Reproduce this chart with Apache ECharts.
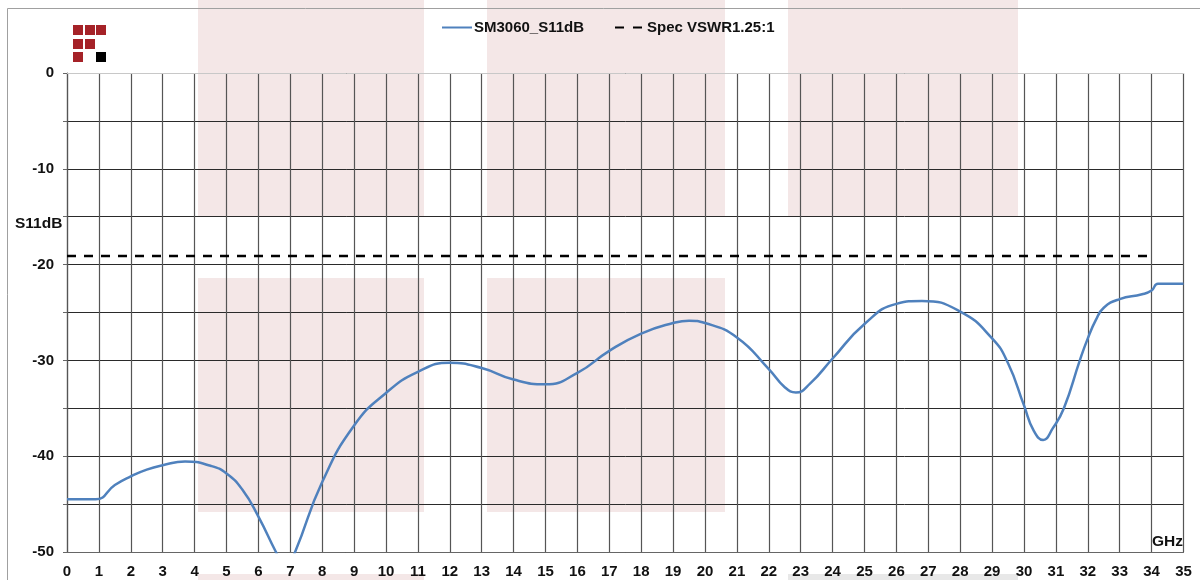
<!DOCTYPE html>
<html>
<head>
<meta charset="utf-8">
<style>
	html, body { margin: 0; padding: 0; background: #fff; }
	#chart { width: 1200px; height: 580px; }
</style>
<script src="https://cdn.jsdelivr.net/npm/echarts@6/dist/echarts.min.js"></script>
</head>
<body>
<div id="chart"></div>
<script>
const s11Freq = [0, 0.9, 1.5, 2, 2.5, 3, 3.7, 4.5, 5, 5.5, 6, 6.55, 6.85, 7.15, 8, 9, 10, 11, 12, 13, 14, 15, 16, 17, 18, 19, 19.5, 20, 21, 22, 22.5, 22.85, 23.3, 24, 25, 26, 26.8, 28, 29, 29.5, 30, 30.3, 30.6, 30.9, 31.25, 31.75, 32, 32.25, 32.5, 33, 33.7, 34, 34.2, 35];
const s11Values = [-44.5, -44.5, -43, -42.1, -41.4, -40.95, -40.55, -41, -41.8, -43.5, -46.3, -50, -51.8, -50, -42.7, -36.8, -33.4, -31.2, -30.25, -30.8, -32, -32.5, -31.3, -29, -27.2, -26.1, -25.85, -26.1, -27.6, -30.9, -32.8, -33.35, -32.4, -29.8, -26.2, -24.1, -23.8, -24.9, -27.7, -30.3, -34.7, -37.3, -38.3, -37.1, -35, -30, -27.7, -25.8, -24.5, -23.6, -23.1, -22.7, -22, -22];
const specFreq = [0, 34];
const specValues = [-19.1, -19.1];
const yTickLabels = [0, -10, -20, -30, -40, -50];

const fontFamily = '"Liberation Sans", Arial, sans-serif';
const textColor = '#111';

function zip(xs, ys) {
	return xs.map((x, i) => [x, ys[i]]);
}

// faint backdrop blocks behind the plot
function block(x, y, w, h, fill) {
	return {
		type: 'rect',
		silent: true,
		z: -10,
		shape: { x: x, y: y, width: w, height: h },
		style: { fill: fill || '#f4e7e7' }
	};
}

function logoCell(x, y, fill) {
	return {
		type: 'rect',
		silent: true,
		shape: { x: x, y: y, width: 10, height: 10 },
		style: { fill: fill || '#a52228' }
	};
}

function rule(x1, y1, x2, y2, color) {
	return {
		type: 'line',
		silent: true,
		z: 5,
		shape: { x1: x1, y1: y1, x2: x2, y2: y2 },
		style: { stroke: color, lineWidth: 1 }
	};
}

function legendItem(name, left, width, pad, icon) {
	return {
		top: 15,
		left: left,
		itemWidth: width,
		itemHeight: 2,
		icon: icon,
		textStyle: { color: textColor, fontFamily: fontFamily, fontWeight: 'bold', fontSize: 15, padding: [0, 0, 0, pad] },
		data: [name]
	};
}

const chart = echarts.init(document.getElementById('chart'));
chart.setOption({
	animation: false,
	backgroundColor: '#fff',
	grid: { left: 67, right: 16.5, top: 73, bottom: 28, containLabel: false },
	legend: [
		legendItem('SM3060_S11dB', 437, 30, -3, 'path://M0,0H30V2H0Z'),
		legendItem('Spec VSWR1.25:1', 610, 27, 0, 'path://M0,0H9V2H0ZM18,0H27V2H18Z')
	],
	xAxis: {
		type: 'value',
		min: 0,
		max: 35,
		interval: 1,
		axisLine: { show: true, onZero: false, lineStyle: { color: '#666', width: 1 } },
		axisTick: { show: false },
		axisLabel: { color: textColor, fontFamily: fontFamily, fontWeight: 'bold', fontSize: 15, margin: 12 },
		splitLine: { show: true, lineStyle: { color: '#555', width: 1.2 } }
	},
	yAxis: {
		type: 'value',
		min: -50,
		max: 0,
		interval: 5,
		axisLine: { show: true, lineStyle: { color: '#555', width: 1.2 } },
		axisTick: { show: true, length: 4, lineStyle: { color: '#666' } },
		axisLabel: {
			color: textColor,
			fontFamily: fontFamily,
			fontWeight: 'bold',
			fontSize: 15,
			margin: 13,
			formatter: (v) => yTickLabels.includes(v) ? String(v) : ''
		},
		splitLine: { show: true, lineStyle: { color: '#2a2a2a', width: 1 } }
	},
	series: [{
		name: 'SM3060_S11dB',
		type: 'line',
		data: zip(s11Freq, s11Values),
		symbol: 'none',
		smooth: 0.5,
		clip: true,
		lineStyle: { color: '#4f81bd', width: 2.5 },
		itemStyle: { color: '#4f81bd' }
	}, {
		name: 'Spec VSWR1.25:1',
		type: 'line',
		data: zip(specFreq, specValues),
		symbol: 'none',
		lineStyle: { color: '#000', width: 2.5, type: [9, 8] },
		itemStyle: { color: '#000' }
	}],
	graphic: [
		block(198, 0, 226, 216),
		block(487, 0, 238, 216),
		block(788, 0, 230, 216),
		block(198, 278, 226, 234),
		block(487, 278, 238, 234),
		block(198, 574, 226, 6),
		block(788, 574, 230, 6, '#e8e8e8'),
		rule(7.5, 8.5, 1200, 8.5, '#a0a0a0'),
		rule(7.5, 8.5, 7.5, 580, '#a0a0a0'),
		rule(67, 73.5, 1184, 73.5, '#c8c8c8'),
		logoCell(73, 25), logoCell(85, 25), logoCell(96, 25),
		logoCell(73, 39), logoCell(85, 39),
		logoCell(73, 52), logoCell(96, 52, '#000'),
		{
			type: 'text',
			silent: true,
			style: { x: 15, y: 216, text: 'S11dB', fill: textColor, font: 'bold 15.5px ' + fontFamily }
		},
		{
			type: 'text',
			silent: true,
			style: { x: 1152, y: 534, text: 'GHz', fill: textColor, font: 'bold 15.5px ' + fontFamily }
		}
	]
});
</script>
</body>
</html>
